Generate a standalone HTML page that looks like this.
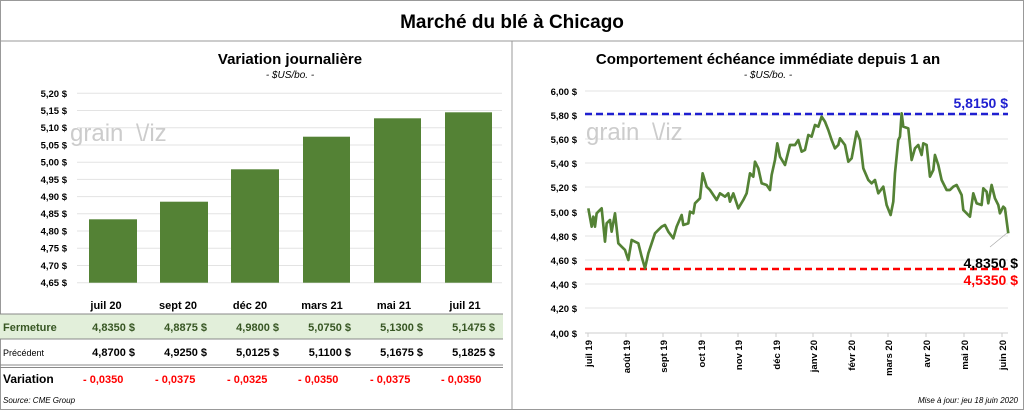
<!DOCTYPE html>
<html><head><meta charset="utf-8"><style>
body{margin:0;width:1024px;height:410px;overflow:hidden;background:#fff;font-family:"Liberation Sans",sans-serif}
</style></head><body>
<svg width="1024" height="410" xmlns="http://www.w3.org/2000/svg" font-family="Liberation Sans, sans-serif">
<rect x="0.5" y="0.5" width="1023" height="409" fill="#fff" stroke="#999"/>
<line x1="0" y1="41" x2="1024" y2="41" stroke="#999"/>
<line x1="512" y1="41" x2="512" y2="410" stroke="#999"/>
<text x="512" y="28" text-anchor="middle" font-size="19" font-weight="bold">Marché du blé à Chicago</text>
<text x="290" y="64" text-anchor="middle" font-size="15" font-weight="bold">Variation  journalière</text>
<text x="290" y="78" text-anchor="middle" font-size="10" font-style="italic">- $US/bo. -</text>
<text x="768" y="64" text-anchor="middle" font-size="15" font-weight="bold">Comportement  échéance immédiate depuis 1 an</text>
<text x="768" y="78" text-anchor="middle" font-size="10" font-style="italic">- $US/bo. -</text>
<!-- left axis -->
<g stroke="#e3e3e3">
<line x1="77" y1="93.3" x2="502" y2="93.3"/><line x1="77" y1="110.5" x2="502" y2="110.5"/><line x1="77" y1="127.7" x2="502" y2="127.7"/><line x1="77" y1="145" x2="502" y2="145"/><line x1="77" y1="162.2" x2="502" y2="162.2"/><line x1="77" y1="179.4" x2="502" y2="179.4"/><line x1="77" y1="196.6" x2="502" y2="196.6"/><line x1="77" y1="213.8" x2="502" y2="213.8"/><line x1="77" y1="231" x2="502" y2="231"/><line x1="77" y1="248.3" x2="502" y2="248.3"/><line x1="77" y1="265.5" x2="502" y2="265.5"/><line x1="77" y1="282.7" x2="502" y2="282.7"/>
</g>
<g font-size="9.5" font-weight="bold" text-anchor="end" fill="#000">
<text x="67" y="97">5,20 $</text><text x="67" y="114">5,15 $</text><text x="67" y="131">5,10 $</text><text x="67" y="148.5">5,05 $</text><text x="67" y="165.5">5,00 $</text><text x="67" y="183">4,95 $</text><text x="67" y="200">4,90 $</text><text x="67" y="217">4,85 $</text><text x="67" y="234.5">4,80 $</text><text x="67" y="251.5">4,75 $</text><text x="67" y="269">4,70 $</text><text x="67" y="286">4,65 $</text>
</g>
<text x="70" y="141" font-size="24" fill="#ccc">grain</text><text x="136" y="141" font-size="24" fill="#ccc">\/iz</text>
<g fill="#548235">
<rect x="89" y="219.3" width="48" height="63.4"/>
<rect x="160" y="201.7" width="48" height="81"/>
<rect x="231" y="169.3" width="48" height="113.4"/>
<rect x="303" y="136.7" width="47" height="146"/>
<rect x="374" y="118.3" width="47" height="164.4"/>
<rect x="445" y="112.3" width="47" height="170.4"/>
</g>
<!-- table -->
<g font-size="11" font-weight="bold" text-anchor="middle">
<text x="106" y="309">juil 20</text><text x="178" y="309">sept 20</text><text x="250" y="309">déc 20</text><text x="322" y="309">mars 21</text><text x="394" y="309">mai 21</text><text x="465" y="309">juil 21</text>
</g>
<rect x="0" y="314" width="503" height="25" fill="#e2efda"/>
<line x1="0" y1="314" x2="503" y2="314" stroke="#888"/>
<line x1="0" y1="339" x2="503" y2="339" stroke="#888"/>
<line x1="0" y1="365" x2="503" y2="365" stroke="#888"/>
<line x1="0" y1="367.5" x2="503" y2="367.5" stroke="#888"/>
<text x="3" y="331" font-size="11" font-weight="bold" fill="#375623">Fermeture</text>
<g font-size="11" font-weight="bold" fill="#375623" text-anchor="end">
<text x="135" y="331">4,8350  $</text><text x="207" y="331">4,8875  $</text><text x="279" y="331">4,9800  $</text><text x="351" y="331">5,0750  $</text><text x="423" y="331">5,1300  $</text><text x="495" y="331">5,1475  $</text>
</g>
<text x="3" y="356" font-size="9">Précédent</text>
<g font-size="11" font-weight="bold" text-anchor="end">
<text x="135" y="356">4,8700  $</text><text x="207" y="356">4,9250  $</text><text x="279" y="356">5,0125  $</text><text x="351" y="356">5,1100  $</text><text x="423" y="356">5,1675  $</text><text x="495" y="356">5,1825  $</text>
</g>
<text x="3" y="383" font-size="12" font-weight="bold">Variation</text>
<g font-size="11" font-weight="bold" fill="#f00">
<text x="83" y="383">- 0,0350</text><text x="155" y="383">- 0,0375</text><text x="227" y="383">- 0,0325</text><text x="298" y="383">- 0,0350</text><text x="370" y="383">- 0,0375</text><text x="441" y="383">- 0,0350</text>
</g>
<text x="3" y="403" font-size="8" font-style="italic">Source: CME Group</text>
<!-- right chart -->
<g stroke="#e3e3e3">
<line x1="585" y1="91" x2="1008" y2="91"/><line x1="585" y1="115" x2="1008" y2="115"/><line x1="585" y1="139" x2="1008" y2="139"/><line x1="585" y1="163" x2="1008" y2="163"/><line x1="585" y1="187" x2="1008" y2="187"/><line x1="585" y1="212" x2="1008" y2="212"/><line x1="585" y1="236" x2="1008" y2="236"/><line x1="585" y1="260" x2="1008" y2="260"/><line x1="585" y1="284" x2="1008" y2="284"/><line x1="585" y1="308" x2="1008" y2="308"/>
<line x1="585" y1="333" x2="1008" y2="333" stroke="#ccc"/>
</g>
<g font-size="9.5" font-weight="bold" text-anchor="end">
<text x="577" y="95">6,00 $</text><text x="577" y="119">5,80 $</text><text x="577" y="143">5,60 $</text><text x="577" y="167">5,40 $</text><text x="577" y="191">5,20 $</text><text x="577" y="216">5,00 $</text><text x="577" y="240">4,80 $</text><text x="577" y="264">4,60 $</text><text x="577" y="288">4,40 $</text><text x="577" y="312">4,20 $</text><text x="577" y="337">4,00 $</text>
</g>
<text x="586" y="140" font-size="24" fill="#ccc">grain</text><text x="652" y="140" font-size="24" fill="#ccc">\/iz</text>
<line x1="585" y1="114" x2="1008" y2="114" stroke="#1f1fd0" stroke-width="2.5" stroke-dasharray="7,4"/>
<line x1="585" y1="269" x2="1008" y2="269" stroke="#f00" stroke-width="2.5" stroke-dasharray="7,4"/>
<text x="1008" y="108" font-size="14" font-weight="bold" fill="#1f1fd0" text-anchor="end">5,8150  $</text>
<text x="1018" y="285" font-size="14" font-weight="bold" fill="#f00" text-anchor="end">4,5350  $</text>
<text x="1018" y="268" font-size="14" font-weight="bold" fill="#000" text-anchor="end">4,8350 $</text>
<line x1="990" y1="247" x2="1007" y2="233" stroke="#aaa" stroke-width="0.7"/>
<g transform="translate(520,80) scale(0.3333)">
<polyline fill="none" stroke="#548235" stroke-width="8" stroke-linejoin="round" points="205,385 215,440 220,410 225,440 230,400 240,390 245,385 255,485 260,430 270,420 275,455 285,400 295,490 305,500 315,510 325,540 335,480 345,485 355,490 365,530 375,565 385,520 395,490 405,460 415,450 425,440 435,435 445,455 460,475 470,440 485,405 490,435 505,430 510,395 520,400 525,370 540,355 548,280 560,320 570,330 590,360 600,340 615,350 625,340 630,365 640,340 655,385 670,360 680,340 690,280 700,290 705,245 715,265 725,310 740,315 750,330 755,285 765,240 772,190 780,230 795,255 810,195 825,195 835,180 845,215 855,210 865,165 875,170 885,135 895,140 905,110 915,125 925,150 935,180 945,205 955,195 960,175 975,195 985,245 995,235 1010,155 1020,180 1030,265 1045,300 1055,310 1065,300 1075,340 1090,320 1100,375 1112,405 1120,365 1125,280 1135,180 1140,170 1145,100 1150,140 1165,145 1175,240 1185,205 1195,195 1205,225 1210,190 1220,195 1230,290 1240,270 1245,225 1255,255 1265,300 1280,330 1290,330 1300,320 1310,315 1325,345 1330,390 1350,410 1360,340 1370,370 1385,375 1390,325 1400,335 1405,370 1415,315 1425,355 1435,375 1440,400 1450,380 1455,385 1465,460"/>
</g>
<g stroke="#ccc"><line x1="588" y1="333" x2="588" y2="337"/><line x1="626" y1="333" x2="626" y2="337"/><line x1="663" y1="333" x2="663" y2="337"/><line x1="701" y1="333" x2="701" y2="337"/><line x1="738" y1="333" x2="738" y2="337"/><line x1="776" y1="333" x2="776" y2="337"/><line x1="813" y1="333" x2="813" y2="337"/><line x1="851" y1="333" x2="851" y2="337"/><line x1="888" y1="333" x2="888" y2="337"/><line x1="926" y1="333" x2="926" y2="337"/><line x1="964" y1="333" x2="964" y2="337"/><line x1="1002" y1="333" x2="1002" y2="337"/></g>
<g font-size="9.5" font-weight="bold" text-anchor="end">
<text transform="translate(592,340) rotate(-90)">juil 19</text>
<text transform="translate(630,340) rotate(-90)">août 19</text>
<text transform="translate(667,340) rotate(-90)">sept 19</text>
<text transform="translate(705,340) rotate(-90)">oct 19</text>
<text transform="translate(742,340) rotate(-90)">nov 19</text>
<text transform="translate(780,340) rotate(-90)">déc 19</text>
<text transform="translate(817,340) rotate(-90)">janv 20</text>
<text transform="translate(855,340) rotate(-90)">févr 20</text>
<text transform="translate(892,340) rotate(-90)">mars 20</text>
<text transform="translate(930,340) rotate(-90)">avr 20</text>
<text transform="translate(968,340) rotate(-90)">mai 20</text>
<text transform="translate(1006,340) rotate(-90)">juin 20</text>
</g>
<text x="1018" y="403" font-size="8" font-style="italic" text-anchor="end">Mise à jour: jeu 18 juin 2020</text>
</svg>
</body></html>
